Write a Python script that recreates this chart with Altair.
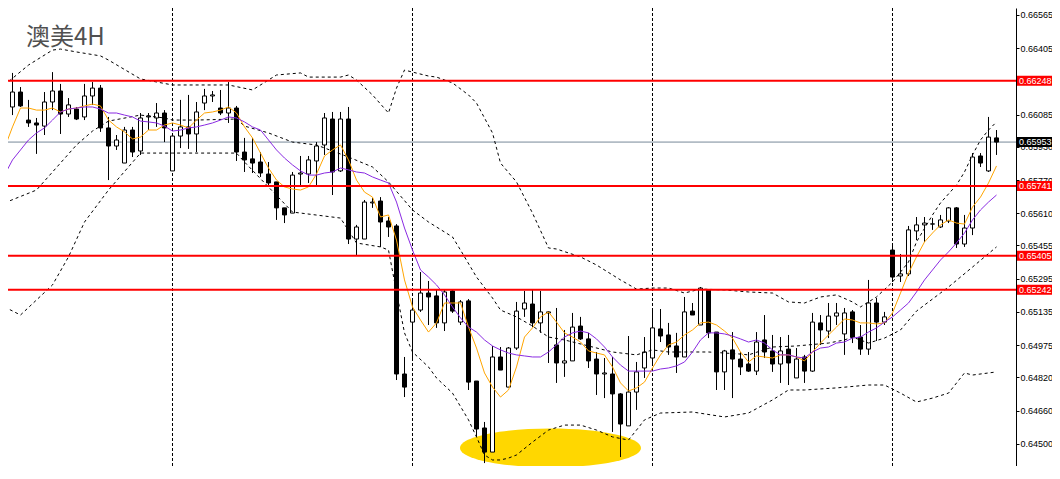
import altair as alt
import pandas as pd

# ---- candle data (AUDUSD 4H) ----
opens = [
0.66093, 0.66122, 0.66194, 0.66059, 0.66045, 0.66030, 0.66146, 0.66199, 0.66088, 0.66112,
0.66074, 0.66175, 0.66213, 0.66021, 0.65934, 0.65852, 0.66011, 0.65910, 0.66074, 0.66069,
0.66093, 0.65814, 0.65982, 0.66026, 0.65992, 0.66141, 0.66175, 0.66117, 0.66093, 0.66117,
0.65905, 0.65872, 0.65857, 0.65799, 0.65761, 0.65636, 0.65611, 0.65799, 0.65799, 0.65862,
0.65939, 0.66064, 0.65814, 0.66064, 0.65486, 0.65486, 0.65660, 0.65669, 0.65573, 0.65549,
0.64836, 0.65086, 0.65144, 0.65226, 0.65212, 0.65082, 0.65236, 0.65086, 0.65188, 0.64802,
0.64576, 0.64460, 0.64918, 0.64773, 0.64961, 0.65149, 0.65173, 0.65082, 0.65130, 0.64976,
0.64889, 0.64899, 0.65067, 0.65005, 0.64908, 0.64836, 0.64836, 0.64740, 0.64586, 0.64749,
0.64865, 0.64913, 0.65053, 0.65024, 0.64971, 0.64918, 0.65139, 0.65072, 0.65241, 0.65038,
0.64846, 0.64952, 0.64908, 0.64884, 0.64850, 0.65000, 0.64947, 0.64884, 0.64956, 0.64817,
0.64918, 0.64850, 0.65082, 0.65043, 0.65115, 0.65029, 0.65135, 0.65014, 0.64956, 0.65178,
0.65086, 0.65433, 0.65308, 0.65318, 0.65525, 0.65554, 0.65558, 0.65544, 0.65573, 0.65636,
0.65462, 0.65539, 0.65886, 0.65814, 0.65973]
highs = [
0.66165, 0.66286, 0.66218, 0.66156, 0.66069, 0.66194, 0.66290, 0.66233, 0.66165, 0.66122,
0.66233, 0.66242, 0.66228, 0.66074, 0.65987, 0.66026, 0.66026, 0.66093, 0.66093, 0.66141,
0.66107, 0.65992, 0.66156, 0.66180, 0.66146, 0.66209, 0.66199, 0.66204, 0.66242, 0.66127,
0.65973, 0.65973, 0.65905, 0.65857, 0.65761, 0.65636, 0.65809, 0.65886, 0.65886, 0.65953,
0.66093, 0.66098, 0.66098, 0.66122, 0.65554, 0.65674, 0.65684, 0.65688, 0.65592, 0.65558,
0.64918, 0.65192, 0.65327, 0.65284, 0.65241, 0.65241, 0.65241, 0.65192, 0.65197, 0.64802,
0.64605, 0.64971, 0.64966, 0.64966, 0.65183, 0.65236, 0.65241, 0.65236, 0.65139, 0.65154,
0.65048, 0.65130, 0.65111, 0.65034, 0.64942, 0.64913, 0.64918, 0.64744, 0.65019, 0.64894,
0.65014, 0.65144, 0.65149, 0.65082, 0.65034, 0.65207, 0.65178, 0.65255, 0.65241, 0.65038,
0.64952, 0.65038, 0.64942, 0.64942, 0.65038, 0.65120, 0.65024, 0.65014, 0.65024, 0.64961,
0.64928, 0.65130, 0.65120, 0.65178, 0.65178, 0.65154, 0.65144, 0.65072, 0.65289, 0.65202,
0.65135, 0.65453, 0.65414, 0.65549, 0.65592, 0.65592, 0.65587, 0.65602, 0.65640, 0.65640,
0.65602, 0.65900, 0.65900, 0.66074, 0.66011]
lows = [
0.66074, 0.66083, 0.66122, 0.66026, 0.65896, 0.65987, 0.66107, 0.65992, 0.66074, 0.66059,
0.66059, 0.66132, 0.66002, 0.65770, 0.65915, 0.65852, 0.65881, 0.65891, 0.66011, 0.66026,
0.65953, 0.65814, 0.65924, 0.65920, 0.65905, 0.66107, 0.66146, 0.66083, 0.66045, 0.65862,
0.65809, 0.65804, 0.65785, 0.65746, 0.65578, 0.65563, 0.65611, 0.65746, 0.65756, 0.65746,
0.65891, 0.65698, 0.65809, 0.65462, 0.65409, 0.65486, 0.65636, 0.65448, 0.65496, 0.64807,
0.64725, 0.64903, 0.65135, 0.65072, 0.65058, 0.65043, 0.65130, 0.65072, 0.64759, 0.64533,
0.64407, 0.64460, 0.64855, 0.64773, 0.64952, 0.65111, 0.65062, 0.65034, 0.64889, 0.64793,
0.64822, 0.64899, 0.65000, 0.64865, 0.64735, 0.64720, 0.64557, 0.64436, 0.64586, 0.64663,
0.64817, 0.64879, 0.64990, 0.64928, 0.64841, 0.64918, 0.65120, 0.65072, 0.65009, 0.64759,
0.64759, 0.64720, 0.64831, 0.64846, 0.64831, 0.64913, 0.64846, 0.64793, 0.64783, 0.64817,
0.64793, 0.64846, 0.64976, 0.65009, 0.65072, 0.64928, 0.64985, 0.64928, 0.64928, 0.64995,
0.65072, 0.65279, 0.65279, 0.65308, 0.65481, 0.65472, 0.65530, 0.65539, 0.65563, 0.65443,
0.65448, 0.65505, 0.65833, 0.65809, 0.65891]
closes = [
0.66127, 0.66194, 0.66127, 0.66045, 0.66035, 0.66146, 0.66199, 0.66088, 0.66132, 0.66064,
0.66175, 0.66213, 0.66021, 0.65934, 0.65963, 0.66011, 0.65905, 0.66069, 0.66079, 0.66093,
0.66021, 0.65982, 0.66026, 0.65992, 0.66098, 0.66175, 0.66180, 0.66093, 0.66117, 0.65905,
0.65867, 0.65852, 0.65804, 0.65756, 0.65636, 0.65602, 0.65794, 0.65804, 0.65867, 0.65934,
0.66069, 0.65809, 0.66064, 0.65486, 0.65544, 0.65664, 0.65664, 0.65568, 0.65544, 0.64836,
0.64773, 0.65144, 0.65226, 0.65207, 0.65082, 0.65231, 0.65139, 0.65183, 0.64797, 0.64571,
0.64460, 0.64918, 0.64855, 0.64961, 0.65139, 0.65178, 0.65082, 0.65135, 0.65135, 0.64889,
0.64899, 0.65062, 0.65005, 0.64899, 0.64836, 0.64841, 0.64740, 0.64595, 0.64749, 0.64846,
0.64942, 0.65058, 0.65019, 0.64966, 0.64918, 0.65135, 0.65120, 0.65250, 0.65034, 0.64846,
0.64947, 0.64908, 0.64870, 0.64850, 0.64990, 0.64942, 0.64884, 0.64947, 0.64889, 0.64908,
0.64850, 0.65086, 0.65048, 0.65115, 0.65130, 0.65130, 0.65014, 0.64956, 0.65178, 0.65086,
0.65111, 0.65303, 0.65318, 0.65530, 0.65554, 0.65563, 0.65559, 0.65578, 0.65636, 0.65462,
0.65539, 0.65881, 0.65852, 0.65977, 0.65953]

# ---- moving averages ----
ma_fast = [
0.65924, 0.66026, 0.66117, 0.66117, 0.66107, 0.66107, 0.66117, 0.66098, 0.66112, 0.66117,
0.66127, 0.66136, 0.66127, 0.66059, 0.66026, 0.66002, 0.65968, 0.65977, 0.66011, 0.66011,
0.66035, 0.66045, 0.66035, 0.66021, 0.66059, 0.66093, 0.66098, 0.66107, 0.66122, 0.66093,
0.66026, 0.65973, 0.65900, 0.65828, 0.65770, 0.65737, 0.65727, 0.65722, 0.65737, 0.65799,
0.65886, 0.65915, 0.65939, 0.65867, 0.65770, 0.65712, 0.65688, 0.65592, 0.65602, 0.65481,
0.65289, 0.65159, 0.65096, 0.65038, 0.65082, 0.65178, 0.65178, 0.65178, 0.65062, 0.64961,
0.64841, 0.64773, 0.64725, 0.64759, 0.64870, 0.65014, 0.65058, 0.65111, 0.65135, 0.65086,
0.65034, 0.65014, 0.64990, 0.64947, 0.64937, 0.64928, 0.64870, 0.64793, 0.64754, 0.64769,
0.64797, 0.64865, 0.64928, 0.64976, 0.64990, 0.65024, 0.65048, 0.65082, 0.65086, 0.65072,
0.65043, 0.65009, 0.64942, 0.64894, 0.64923, 0.64918, 0.64913, 0.64928, 0.64928, 0.64918,
0.64899, 0.64942, 0.64985, 0.65024, 0.65062, 0.65101, 0.65096, 0.65082, 0.65082, 0.65077,
0.65082, 0.65130, 0.65226, 0.65322, 0.65400, 0.65472, 0.65515, 0.65554, 0.65578, 0.65563,
0.65558, 0.65640, 0.65688, 0.65756, 0.65838]
ma_slow = [
0.65794, 0.65867, 0.65915, 0.65963, 0.65997, 0.66021, 0.66059, 0.66098, 0.66112, 0.66117,
0.66122, 0.66122, 0.66112, 0.66093, 0.66093, 0.66083, 0.66074, 0.66054, 0.66050, 0.66045,
0.66030, 0.66006, 0.66011, 0.66021, 0.66026, 0.66035, 0.66045, 0.66059, 0.66074, 0.66069,
0.66050, 0.66026, 0.66011, 0.65963, 0.65915, 0.65876, 0.65843, 0.65814, 0.65794, 0.65794,
0.65804, 0.65809, 0.65828, 0.65819, 0.65809, 0.65804, 0.65785, 0.65770, 0.65756, 0.65664,
0.65539, 0.65433, 0.65337, 0.65303, 0.65265, 0.65217, 0.65159, 0.65106, 0.65062, 0.65038,
0.65000, 0.64971, 0.64952, 0.64937, 0.64928, 0.64923, 0.64918, 0.64918, 0.64942, 0.64976,
0.65014, 0.65034, 0.65043, 0.65034, 0.65005, 0.64966, 0.64918, 0.64879, 0.64850, 0.64850,
0.64850, 0.64850, 0.64860, 0.64865, 0.64875, 0.64894, 0.64942, 0.65000, 0.65034, 0.65034,
0.65029, 0.65019, 0.65005, 0.64990, 0.65000, 0.64985, 0.64952, 0.64928, 0.64928, 0.64918,
0.64913, 0.64942, 0.64961, 0.64966, 0.64985, 0.64990, 0.65009, 0.65014, 0.65038, 0.65058,
0.65086, 0.65111, 0.65144, 0.65178, 0.65231, 0.65289, 0.65337, 0.65385, 0.65424, 0.65467,
0.65515, 0.65578, 0.65626, 0.65664, 0.65698]

# ---- Bollinger bands (read at candle indices) ----
upper_idx = [0, 3, 6, 7, 9, 12, 13, 17, 21, 28, 31, 34, 37, 38, 42, 43, 44, 46, 48, 49,
             50, 51, 53, 54, 56, 58, 59, 61, 62, 64, 66, 68, 69, 72, 74, 77, 79, 81, 83, 85,
             87, 90, 93, 96, 98, 100, 102, 104, 106, 107, 109, 111, 113, 114, 116, 117, 119, 120, 121, 122,
             123, 124]
upper_val = [0.66228, 0.66324, 0.66396, 0.66401, 0.66387, 0.66368, 0.66348, 0.66257, 0.66228, 0.66228,
             0.66204, 0.66276, 0.66286, 0.66266, 0.66266, 0.66276, 0.66252, 0.66180, 0.66093, 0.66213,
             0.66300, 0.66290, 0.66271, 0.66266, 0.66238, 0.66180, 0.66141, 0.65997, 0.65852, 0.65761,
             0.65611, 0.65443, 0.65438, 0.65400, 0.65361, 0.65289, 0.65245, 0.65250, 0.65250, 0.65226,
             0.65245, 0.65241, 0.65231, 0.65226, 0.65183, 0.65178, 0.65207, 0.65217, 0.65183, 0.65159,
             0.65207, 0.65279, 0.65375, 0.65472, 0.65602, 0.65660, 0.65746, 0.65809, 0.65891, 0.65963,
             0.66011, 0.66050]
mid_idx = [0, 4, 9, 11, 13, 17, 20, 21, 24, 29, 30, 33, 36, 39, 43, 46, 48, 51, 53, 56,
           57, 59, 61, 62, 64, 66, 68, 70, 76, 79, 81, 83, 88, 92, 93, 96, 99, 103, 105, 106,
           108, 110, 112, 114, 117, 118, 121, 124]
mid_val = [0.65660, 0.65722, 0.65939, 0.66006, 0.66054, 0.66083, 0.66069, 0.66059, 0.66059, 0.66064,
           0.66030, 0.65997, 0.65953, 0.65939, 0.65881, 0.65833, 0.65761, 0.65626, 0.65568, 0.65496,
           0.65433, 0.65303, 0.65202, 0.65144, 0.65111, 0.65067, 0.65014, 0.65000, 0.64942, 0.64928,
           0.64952, 0.64942, 0.64942, 0.64932, 0.64928, 0.64966, 0.64971, 0.64985, 0.65000, 0.65014,
           0.64985, 0.65009, 0.65048, 0.65139, 0.65226, 0.65255, 0.65351, 0.65448]
lower_idx = [0, 2, 6, 8, 10, 13, 17, 21, 29, 30, 36, 42, 44, 47, 48, 49, 50, 51, 53, 54,
             56, 58, 59, 60, 61, 62, 63, 64, 66, 68, 70, 72, 74, 76, 78, 79, 80, 82, 86, 90,
             93, 96, 98, 100, 104, 108, 110, 112, 114, 116, 118, 120, 121, 124]
lower_val = [0.65159, 0.65120, 0.65265, 0.65400, 0.65568, 0.65722, 0.65900, 0.65900, 0.65900, 0.65857,
             0.65616, 0.65587, 0.65467, 0.65448, 0.65433, 0.65231, 0.65034, 0.64942, 0.64870, 0.64817,
             0.64744, 0.64615, 0.64533, 0.64446, 0.64422, 0.64422, 0.64431, 0.64446, 0.64508, 0.64566,
             0.64590, 0.64590, 0.64566, 0.64533, 0.64518, 0.64566, 0.64615, 0.64648, 0.64653, 0.64629,
             0.64648, 0.64711, 0.64759, 0.64759, 0.64769, 0.64783, 0.64783, 0.64744, 0.64701, 0.64720,
             0.64744, 0.64841, 0.64831, 0.64846]

separator_idx = [21, 51, 81, 111]
axis_ticks = [0.66565, 0.66405, 0.66245, 0.66085, 0.65930, 0.65770, 0.65610, 0.65455,
              0.65295, 0.65135, 0.64975, 0.64820, 0.64660, 0.64500, 0.64340]
level_prices = [0.66248, 0.65741, 0.65405, 0.65242]
last_price = [0.65953]
title_text = ["澳美4H"]
zone_idx = [68.25]
zone_price = [0.64480]

# ---- tables ----
n = len(opens)
idx = list(range(n))
candles = pd.DataFrame({"i": idx, "open": opens, "high": highs, "low": lows, "close": closes})
mas = pd.DataFrame({"i": idx, "fast": ma_fast, "slow": ma_slow})
upper = pd.DataFrame({"i": upper_idx, "v": upper_val})
mid = pd.DataFrame({"i": mid_idx, "v": mid_val})
lower = pd.DataFrame({"i": lower_idx, "v": lower_val})
seps = pd.DataFrame({"i": separator_idx})
levels = pd.DataFrame({"price": level_prices})
last = pd.DataFrame({"price": last_price})
title_df = pd.DataFrame({"t": title_text})
zone = pd.DataFrame({"i": zone_idx, "p": zone_price})

W, H = 1008, 458
RIGHT = 36
xs = alt.Scale(domain=[0.4375, 126.4375], nice=False, zero=False, padding=0)
ys = alt.Scale(domain=[0.643929, 0.665987], nice=False, zero=False, padding=0)
yaxis = alt.Axis(orient="right", values=axis_ticks, format=".5f", title=None, grid=False,
                 domain=True, ticks=True, labels=True,
                 domainColor="black", domainWidth=1, tickColor="black", tickSize=3,
                 labelColor="black", labelFont="Liberation Sans", labelFontSize=9,
                 labelPadding=1, labelOverlap=False, labelFlush=False)

def X(f):
    return alt.X(f"{f}:Q", scale=xs, axis=None)

def Y(f):
    return alt.Y(f"{f}:Q", scale=ys, axis=yaxis)

ell_path = "M -1 0 A 1 0.214 0 1 1 1 0 A 1 0.214 0 1 1 -1 0 Z"
zone_layer = alt.Chart(zone).mark_point(shape=ell_path, size=32761, filled=True,
                                        color="#FFD700", opacity=1, strokeWidth=0).encode(
    x=X("i"), y=Y("p"))

sep_layer = alt.Chart(seps).mark_rule(color="black", strokeWidth=1, strokeDash=[3, 2]).encode(x=X("i"))

last_line = alt.Chart(last).mark_rule(color="#778899", strokeWidth=1).encode(y=Y("price"))

wicks = alt.Chart(candles).mark_rule(color="black", strokeWidth=1).encode(
    x=X("i"), y=Y("low"), y2="high")
bodies = alt.Chart(candles).mark_bar(size=4, stroke="black", strokeWidth=1).encode(
    x=X("i"), y=Y("open"), y2="close",
    fill=alt.condition("datum.close >= datum.open", alt.value("white"), alt.value("black")))

def band(df):
    return alt.Chart(df).mark_line(color="black", strokeWidth=1, strokeDash=[3, 3]).encode(
        x=X("i"), y=Y("v"))

fast_line = alt.Chart(mas).mark_line(color="#FFA500", strokeWidth=1).encode(x=X("i"), y=Y("fast"))
slow_line = alt.Chart(mas).mark_line(color="#8A2BE2", strokeWidth=1).encode(x=X("i"), y=Y("slow"))

BOX_W = RIGHT - 1
BOX_X = W + 1 + BOX_W / 2
TXT_X = W + 3

level_lines = alt.Chart(levels).mark_rule(color="#FF0000", strokeWidth=2).encode(y=Y("price"))
level_boxes = alt.Chart(levels).mark_tick(orient="horizontal", size=BOX_W, thickness=10,
                                          color="#FF0000", opacity=1).encode(
    y=Y("price"), x=alt.value(BOX_X))
level_text = alt.Chart(levels).mark_text(align="left", baseline="middle", color="white",
                                         font="Liberation Sans", fontSize=9).encode(
    y=Y("price"), x=alt.value(TXT_X), text=alt.Text("price:Q", format=".5f"))
last_box = alt.Chart(last).mark_tick(orient="horizontal", size=BOX_W, thickness=10,
                                     color="black", opacity=1).encode(
    y=Y("price"), x=alt.value(BOX_X))
last_text = alt.Chart(last).mark_text(align="left", baseline="middle", color="white",
                                      font="Liberation Sans", fontSize=9).encode(
    y=Y("price"), x=alt.value(TXT_X), text=alt.Text("price:Q", format=".5f"))

title_layer = alt.Chart(title_df).mark_text(align="left", baseline="alphabetic",
                                            font="Noto Sans CJK SC", fontSize=24,
                                            color="#505050").encode(
    x=alt.value(18), y=alt.value(37), text="t:N")

chart = alt.layer(
    zone_layer, sep_layer, last_line, wicks, bodies,
    band(upper), band(mid), band(lower), fast_line, slow_line,
    level_lines, level_boxes, level_text, last_box, last_text, title_layer
).properties(
    width=W, height=H,
    padding={"left": 0, "top": 0, "right": RIGHT, "bottom": 0},
    autosize=alt.AutoSizeParams(type="none"),
    background="white",
).configure_view(stroke=None)

chart.save("out.html", embed_options={"renderer": "svg", "actions": False})
